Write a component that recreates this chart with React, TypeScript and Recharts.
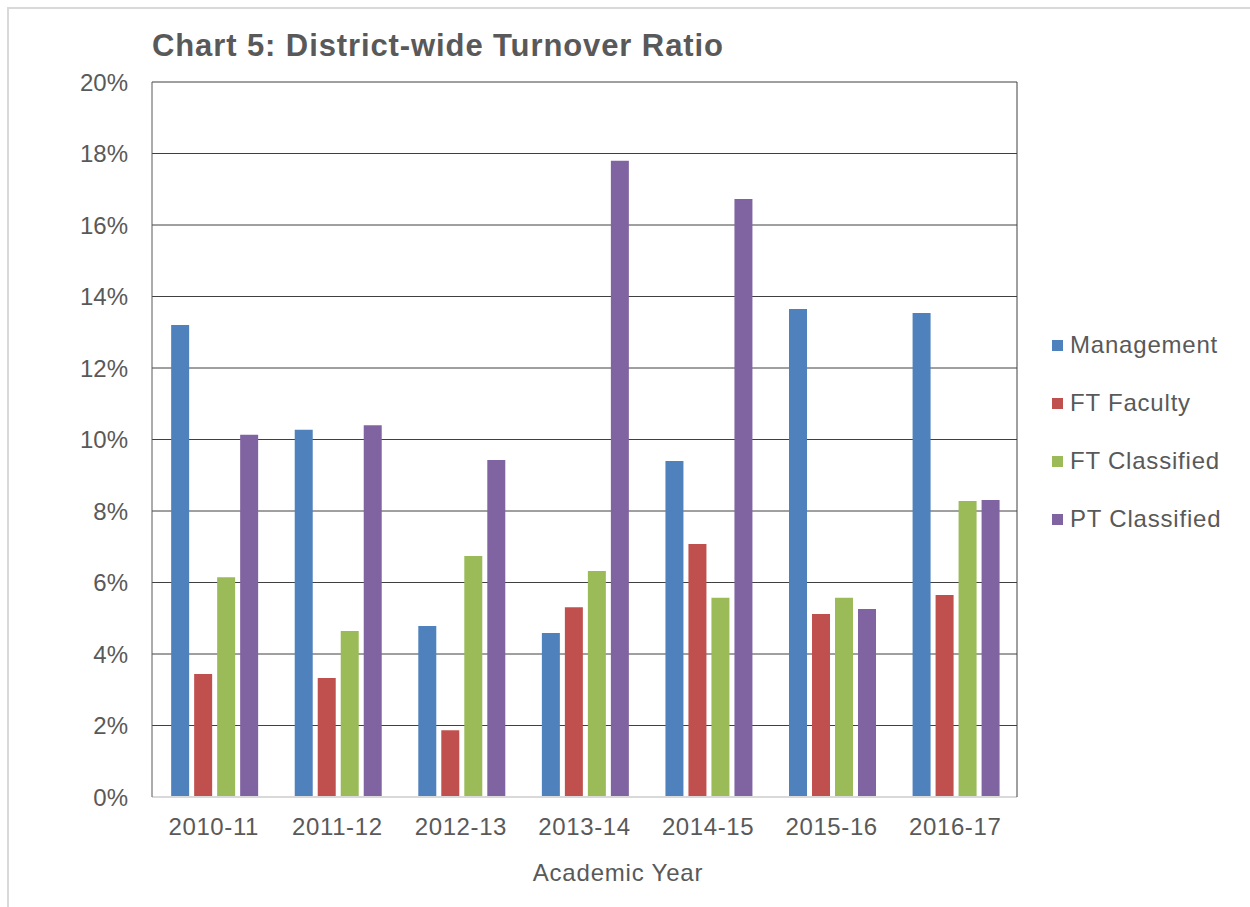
import { BarChart, Bar, XAxis, YAxis, CartesianGrid } from 'recharts';

const years = ['2010-11', '2011-12', '2012-13', '2013-14', '2014-15', '2015-16', '2016-17'];
const management = [13.2, 10.27, 4.78, 4.59, 9.4, 13.65, 13.54];
const ftFaculty = [3.44, 3.33, 1.87, 5.31, 7.08, 5.12, 5.65];
const ftClassified = [6.15, 4.64, 6.74, 6.32, 5.57, 5.57, 8.28];
const ptClassified = [10.13, 10.4, 9.43, 17.8, 16.73, 5.26, 8.31];
const yTicks = [0, 2, 4, 6, 8, 10, 12, 14, 16, 18, 20];

const series = [
  { key: 'management', name: 'Management', color: '#4F81BD' },
  { key: 'ftFaculty', name: 'FT Faculty', color: '#C0504D' },
  { key: 'ftClassified', name: 'FT Classified', color: '#9BBB59' },
  { key: 'ptClassified', name: 'PT Classified', color: '#8064A2' },
];

const data = years.map((year, i) => ({
  year,
  management: management[i],
  ftFaculty: ftFaculty[i],
  ftClassified: ftClassified[i],
  ptClassified: ptClassified[i],
}));

const FONT = '"Liberation Sans", Arial, sans-serif';
const TEXT = '#595959';

function LegendBox() {
  return (
    <div style={{ position: 'absolute', left: 1052, top: 316, fontFamily: FONT }}>
      {series.map((s) => (
        <div key={s.key} style={{ display: 'flex', alignItems: 'center', height: 58 }}>
          <span style={{ width: 11, height: 11, background: s.color, marginRight: 7, display: 'inline-block' }} />
          <span style={{ fontSize: 24, letterSpacing: 0.8, color: TEXT, whiteSpace: 'nowrap' }}>{s.name}</span>
        </div>
      ))}
    </div>
  );
}

export default function App() {
  return (
    <div style={{ position: 'absolute', left: 0, top: 0, width: 1250, height: 907, background: '#fff', fontFamily: FONT, overflow: 'hidden' }}>
      <div style={{ position: 'absolute', left: 7, top: 7, width: 1300, height: 1000, borderLeft: '2px solid #d9d9d9', borderTop: '2px solid #d9d9d9' }} />
      <div style={{ position: 'absolute', left: 152, top: 28, fontSize: 31, letterSpacing: 0.9, fontWeight: 'bold', color: TEXT, whiteSpace: 'nowrap' }}>
        Chart 5: District-wide Turnover Ratio
      </div>
      <div style={{ position: 'absolute', left: 0, top: 0 }}>
        <BarChart
          width={1250}
          height={907}
          data={data}
          margin={{ top: 82, right: 232, bottom: 80, left: 0 }}
          barCategoryGap="15.5%"
          barGap={5}
        >
          <CartesianGrid vertical={false} stroke="#404040" />
          <XAxis
            dataKey="year"
            height={30}
            tickLine={false}
            tickSize={0}
            tickMargin={21}
            axisLine={{ stroke: '#d9d9d9', strokeWidth: 2 }}
            tick={{ fontSize: 24, fill: TEXT, fontFamily: FONT, letterSpacing: 0.6 }}
          />
          <YAxis
            width={152}
            domain={[0, 20]}
            ticks={yTicks}
            interval={0}
            tickFormatter={(v: number) => `${v}%`}
            tickLine={false}
            tickSize={0}
            tickMargin={24}
            axisLine={{ stroke: TEXT }}
            tick={{ fontSize: 24, fill: TEXT, fontFamily: FONT }}
          />
          <YAxis
            yAxisId="right"
            orientation="right"
            width={1}
            domain={[0, 20]}
            tick={false}
            tickLine={false}
            axisLine={{ stroke: '#404040' }}
          />
          {series.map((s) => (
            <Bar key={s.key} dataKey={s.key} name={s.name} fill={s.color} isAnimationActive={false} />
          ))}
        </BarChart>
      </div>
      <LegendBox />
      <div style={{ position: 'absolute', left: 618, top: 873, transform: 'translate(-50%, -50%)', fontSize: 24, letterSpacing: 0.8, color: TEXT, whiteSpace: 'nowrap' }}>
        Academic Year
      </div>
    </div>
  );
}
